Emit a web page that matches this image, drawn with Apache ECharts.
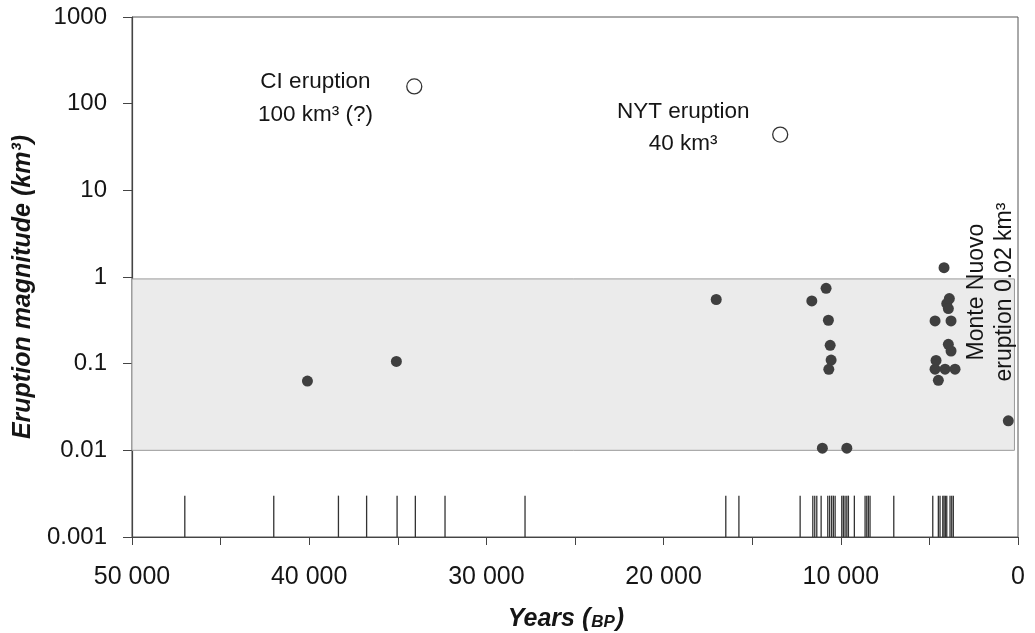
<!DOCTYPE html>
<html>
<head>
<meta charset="utf-8">
<script src="https://cdn.jsdelivr.net/npm/echarts@6/dist/echarts.min.js"></script>
<style>
html,body{margin:0;padding:0;background:#fff;}
#main{width:1035px;height:633px;}
</style>
</head>
<body>
<div id="main"></div>
<script>
// Years BP of eruptions shown as bottom tick lines
const eventYears = [47020, 42000, 38350, 36760, 35040, 34010, 32335, 27820, 16490, 15750,
  12295, 11580, 11470, 11355, 11110, 10735, 10630, 10520, 10420, 10320,
  9945, 9855, 9760, 9660, 9570, 9235, 8630, 8535, 8445, 8350, 7010,
  4810, 4495, 4400, 4245, 4175, 4100, 4020, 3835, 3740, 3650];
const eventTop = 0.003;

// Filled points: [years BP, magnitude km3]
const smallEruptions = [
  [40100, 0.063], [35080, 0.106], [17030, 0.55],
  [11636, 0.53], [10830, 0.74], [10700, 0.317], [10600, 0.163], [10547, 0.110], [10677, 0.086],
  [11040, 0.0106], [9660, 0.0106],
  [4174, 1.28], [3875, 0.563], [4021, 0.493], [3931, 0.432], [4681, 0.311], [3779, 0.311],
  [3931, 0.167], [3779, 0.14], [4625, 0.109], [4681, 0.0863], [4117, 0.0863], [3553, 0.0863],
  [4495, 0.0643], [547, 0.0219]
];

// Open circles: large eruptions
const largeEruptions = [[34070, 158], [13420, 44]];

// Shaded band: [x start, y low], [x end, y high]
const bandStart = [50000, 0.01];
const bandEnd = [200, 0.95];

// Annotation texts: [x, y, text]
const annotations = [
  [39650, 180, 'CI eruption'],
  [39650, 74, '100 km³ (?)'],
  [18895, 80, 'NYT eruption'],
  [18895, 34, '40 km³']
];
const monteNuovo = [[1523, 0.67, 'Monte Nuovo\neruption 0.02 km³']];

const xRange = [0, 50000];
const yRange = [0.001, 1000];

const FONT = 'Arial, "Liberation Sans", sans-serif';
const TXT = '#151515';
const chart = echarts.init(document.getElementById('main'));

function fmtThousands(v) {
  return String(v).replace(/\B(?=(\d{3})+(?!\d))/g, ' ');
}

chart.setOption({
  backgroundColor: '#ffffff',
  animation: false,
  grid: {left: 132, right: 17, top: 17, bottom: 96, containLabel: false, outerBoundsMode: 'none',
    show: true, borderColor: '#555', borderWidth: 1},
  xAxis: {
    type: 'value', min: xRange[0], max: xRange[1], interval: 5000, inverse: true,
    axisLine: {onZero: false, lineStyle: {color: '#444', width: 1.2}},
    axisTick: {show: true, length: 8, lineStyle: {color: '#444'}},
    splitLine: {show: false},
    axisLabel: {
      color: TXT, fontFamily: FONT, fontSize: 25, margin: 28,
      formatter: v => (v % 10000 === 0 ? fmtThousands(v) : '')
    },
    name: '{a|Years (}{b|BP}{a|)}',
    nameLocation: 'middle', nameGap: 70,
    nameTextStyle: {
      padding: [0, 18, 0, 0],
      rich: {
        a: {fontFamily: FONT, fontSize: 25, fontWeight: 'bold', fontStyle: 'italic', color: TXT},
        b: {fontFamily: FONT, fontSize: 17, fontWeight: 'bold', fontStyle: 'italic', color: TXT, padding: [5, 1, 0, 1]}
      }
    }
  },
  yAxis: {
    type: 'log', logBase: 10, min: yRange[0], max: yRange[1],
    axisLine: {show: true, onZero: false, lineStyle: {color: '#444', width: 1.2}},
    axisTick: {show: true, length: 9, lineStyle: {color: '#444'}},
    splitLine: {show: false},
    minorTick: {show: false},
    axisLabel: {
      color: TXT, fontFamily: FONT, fontSize: 24, margin: 25,
      formatter: v => String(+Number(v).toPrecision(3))
    },
    name: 'Eruption magnitude (km³)',
    nameLocation: 'middle', nameGap: 83,
    nameTextStyle: {fontFamily: FONT, fontSize: 25, fontWeight: 'bold', fontStyle: 'italic', color: TXT,
      padding: [0, 20, 0, 0]}
  },
  series: [
    {
      type: 'scatter', data: [], z: 1, silent: true,
      markArea: {
        silent: true,
        itemStyle: {color: '#ebebeb', borderColor: '#9a9a9a', borderWidth: 1},
        data: [[{coord: bandStart}, {coord: bandEnd}]]
      }
    },
    {
      type: 'custom', z: 2, silent: true,
      data: eventYears.map(y => [y, eventTop]),
      encode: {x: 0, y: 1},
      renderItem: function (params, api) {
        const x = api.value(0);
        const p0 = api.coord([x, yRange[0]]);
        const p1 = api.coord([x, api.value(1)]);
        return {type: 'line', shape: {x1: p0[0], y1: p0[1], x2: p1[0], y2: p1[1]},
          style: {stroke: '#333', lineWidth: 1.3}};
      }
    },
    {
      type: 'scatter', z: 3, data: smallEruptions, symbol: 'circle', symbolSize: 11,
      itemStyle: {color: '#3f3f3f', opacity: 1}
    },
    {
      type: 'scatter', z: 3, data: largeEruptions, symbol: 'circle', symbolSize: 15,
      itemStyle: {color: '#ffffff', borderColor: '#333', borderWidth: 1.3, opacity: 1}
    },
    {
      type: 'scatter', z: 4, symbolSize: 1, silent: true,
      itemStyle: {color: 'rgba(0,0,0,0)'},
      data: annotations,
      label: {show: true, position: 'inside', formatter: p => p.data[2],
        fontFamily: FONT, fontSize: 22.5, color: TXT, textBorderWidth: 0, textShadowBlur: 0, opacity: 1}
    },
    {
      type: 'scatter', z: 4, symbolSize: 1, silent: true,
      itemStyle: {color: 'rgba(0,0,0,0)'},
      data: monteNuovo,
      label: {show: true, position: 'inside', rotate: 90, formatter: p => p.data[2],
        fontFamily: FONT, fontSize: 23, lineHeight: 28, color: TXT, align: 'center', verticalAlign: 'middle',
        textBorderWidth: 0, textShadowBlur: 0, opacity: 1}
    }
  ]
});
</script>
</body>
</html>
